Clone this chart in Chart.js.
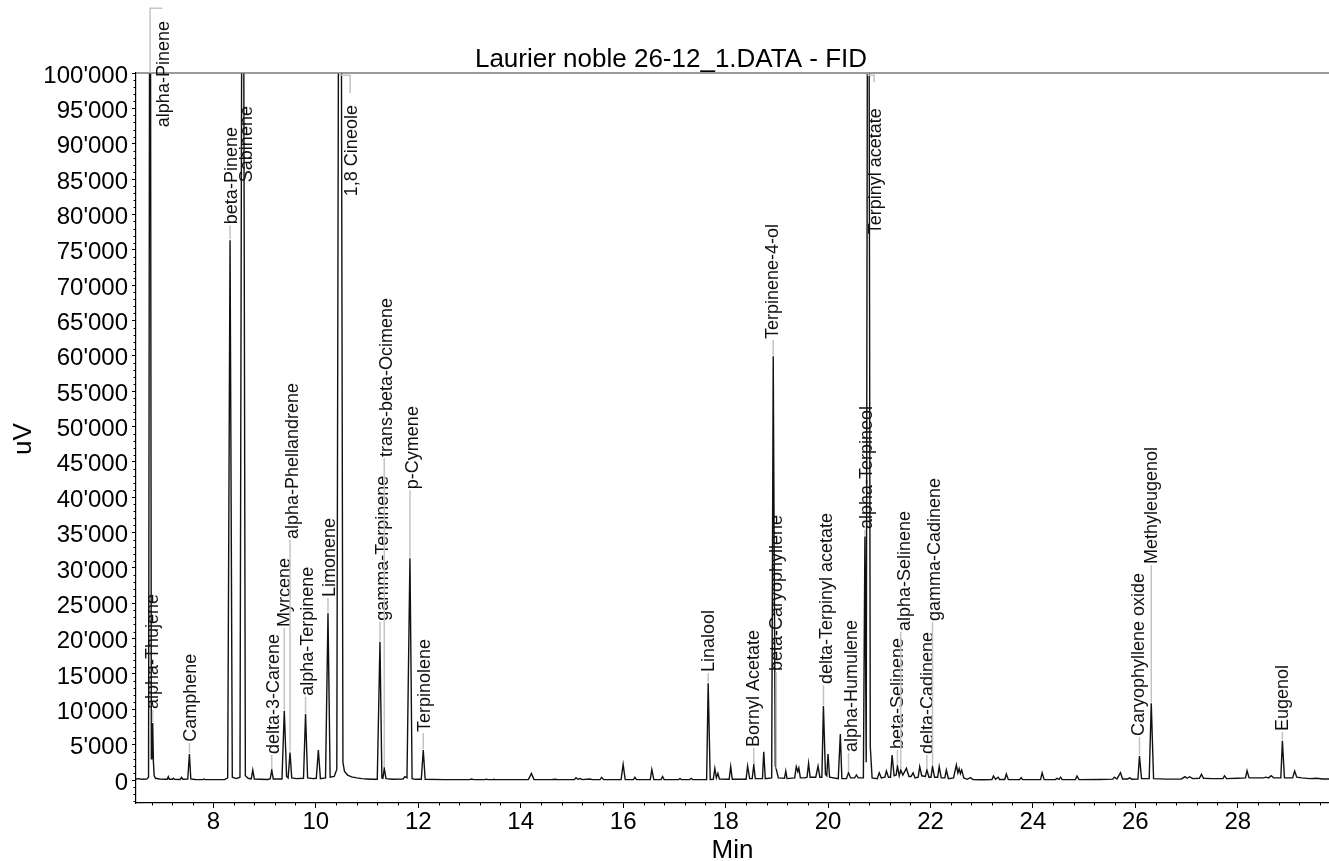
<!DOCTYPE html>
<html>
<head>
<meta charset="utf-8">
<script src="https://cdn.jsdelivr.net/npm/chart.js@4.4.1/dist/chart.umd.min.js"></script>
<style>
  html, body { margin: 0; padding: 0; background: #ffffff; }
  #wrap { width: 1329px; height: 861px; }
</style>
</head>
<body>
<div id="wrap"><canvas id="c" width="1329" height="861"></canvas></div>
<script>
// ---------- DATA ----------
const chartTitle = "Laurier noble 26-12_1.DATA - FID";
const xAxisTitle = "Min";
const yAxisTitle = "uV";

// Tick labels
const xTickValues = [8, 10, 12, 14, 16, 18, 20, 22, 24, 26, 28];
const yTickValues = [0, 5000, 10000, 15000, 20000, 25000, 30000, 35000, 40000, 45000, 50000,
  55000, 60000, 65000, 70000, 75000, 80000, 85000, 90000, 95000, 100000];

// Chromatogram trace (retention time in min, signal in uV)
const traceTime = [
  6.49, 6.55, 6.58, 6.62, 6.70, 6.735, 6.765, 6.79, 6.80, 6.815, 6.83, 6.845, 6.87, 6.95,
  7.05, 7.10, 7.12, 7.14, 7.20, 7.22, 7.24, 7.35, 7.38, 7.40, 7.50, 7.533, 7.56, 7.65, 7.80, 7.82, 7.84,
  8.00, 8.22, 8.28, 8.326, 8.37, 8.45, 8.52, 8.574, 8.625, 8.68, 8.74, 8.77, 8.80,
  9.05, 9.11, 9.14, 9.17, 9.34, 9.385, 9.43, 9.46, 9.497, 9.53, 9.62, 9.76, 9.80, 9.84, 9.95,
  10.01, 10.05, 10.09, 10.19, 10.238, 10.28, 10.36, 10.41, 10.472, 10.53, 10.56, 10.62, 10.70, 10.80, 10.90,
  11.00, 11.10, 11.20, 11.253, 11.29, 11.31, 11.337, 11.37, 11.50, 11.70, 11.74, 11.78, 11.838, 11.88, 11.95,
  12.06, 12.098, 12.135, 12.50, 13.00, 13.04, 13.08, 13.30, 13.33, 13.36, 13.46, 13.48, 13.50,
  14.15, 14.21, 14.26, 14.60, 14.67, 14.72, 15.05, 15.08, 15.12, 15.16, 15.20, 15.35, 15.40, 15.55, 15.58, 15.62,
  15.96, 16.00, 16.04, 16.20, 16.23, 16.26, 16.53, 16.56, 16.60, 16.74, 16.77, 16.80,
  17.08, 17.11, 17.14, 17.30, 17.33, 17.36, 17.63, 17.66, 17.70, 17.76, 17.79, 17.82, 17.85, 17.88,
  18.07, 18.10, 18.13, 18.40, 18.43, 18.47, 18.52, 18.55, 18.58, 18.72, 18.745, 18.775, 18.90, 18.93, 18.97, 18.99,
  19.03, 19.15, 19.175, 19.20, 19.35, 19.38, 19.41, 19.43, 19.46, 19.55, 19.59, 19.62, 19.65, 19.76, 19.805, 19.84,
  19.88, 19.91, 19.95, 19.975, 20.00, 20.03, 20.20, 20.24, 20.27, 20.36, 20.40, 20.44, 20.52, 20.555, 20.59,
  20.69, 20.72, 20.745, 20.785, 20.825, 20.86, 20.96, 21.00, 21.04, 21.11, 21.14, 21.18, 21.22, 21.25, 21.29,
  21.33, 21.355, 21.39, 21.42, 21.46, 21.53, 21.58, 21.62, 21.66, 21.70, 21.76, 21.79, 21.83, 21.90, 21.93, 21.97,
  22.01, 22.04, 22.08, 22.14, 22.17, 22.21, 22.28, 22.31, 22.35, 22.45, 22.505, 22.535, 22.56, 22.585, 22.61, 22.65,
  22.72, 22.78, 22.83, 23.00, 23.20, 23.23, 23.27, 23.32, 23.35, 23.45, 23.48, 23.52, 23.74, 23.77, 23.80,
  24.15, 24.18, 24.22, 24.44, 24.47, 24.51, 24.54, 24.57, 24.83, 24.86, 24.90, 25.30, 25.56, 25.59, 25.64,
  25.71, 25.75, 25.85, 25.89, 25.93, 26.05, 26.08, 26.12, 26.27, 26.31, 26.355, 26.60, 26.90, 26.97, 27.01,
  27.06, 27.12, 27.25, 27.29, 27.33, 27.50, 27.71, 27.74, 27.78, 28.00, 28.15, 28.18, 28.22, 28.50, 28.55,
  28.60, 28.65, 28.70, 28.84, 28.87, 28.91, 29.07, 29.11, 29.15, 29.25, 29.40, 29.54, 29.65, 29.80
];
const traceSignal = [
  150, 200, 120, 100, 120, 400, 160000, 3000, 3200, 8070, 2500, 600, 250, 150,
  100, 100, 470, 100, 100, 240, 100, 80, 380, 100, 120, 3680, 150, 80, 60, 150, 60,
  50, 50, 300, 76360, 400, 200, 400, 170000, 600, 250, 150, 1410, 150,
  80, 150, 1410, 150, 150, 9800, 500, 300, 3900, 300, 200, 250, 9330, 300, 200,
  250, 4240, 200, 300, 23570, 400, 500, 1500, 200000, 2500, 1200, 700, 450, 300, 200,
  150, 100, 100, 19560, 300, 250, 1650, 200, 100, 150, 470, 300, 31350, 200, 100,
  100, 4240, 100, 60, 50, 140, 50, 50, 120, 50, 50, 100, 50,
  60, 940, 60, 50, 100, 50, 50, 330, 100, 200, 60, 150, 60, 60, 380, 60,
  60, 2210, 60, 60, 380, 60, 60, 1480, 60, 60, 500, 60,
  60, 190, 60, 60, 240, 60, 60, 13670, 80, 100, 1650, 300, 940, 150,
  100, 1890, 100, 100, 1980, 200, 200, 2120, 200, 200, 4000, 200, 300, 59950, 2000, 1500,
  300, 250, 1270, 200, 300, 1890, 1200, 1700, 300, 300, 400, 2360, 400, 400, 1980, 400,
  400, 10460, 800, 600, 3680, 400, 200, 6500, 200, 200, 1030, 300, 300, 710, 300,
  300, 34450, 2500, 180000, 4700, 300, 200, 1030, 300, 400, 1270, 400, 400, 3540, 600,
  700, 1980, 600, 1410, 700, 1650, 500, 500, 1000, 300, 400, 1890, 600, 500, 1410, 400,
  400, 1890, 400, 400, 1890, 300, 300, 1410, 200, 300, 2120, 1000, 1600, 900, 1400, 300,
  100, 330, 50, 40, 60, 570, 100, 400, 80, 80, 850, 80, 60, 330, 60,
  60, 1030, 60, 60, 250, 100, 400, 60, 60, 570, 60, 80, 120, 400, 150,
  1030, 150, 150, 300, 120, 150, 3390, 200, 200, 10840, 200, 120, 150, 470, 250,
  470, 200, 250, 800, 250, 200, 200, 610, 200, 250, 300, 1320, 300, 300, 400,
  300, 600, 300, 300, 5560, 300, 300, 1270, 400, 300, 200, 250, 150, 150
];

// Peak annotations
const labelNames = [
  "alpha-Pinene", "alpha-Thujene", "Camphene", "beta-Pinene", "Sabinene", "delta-3-Carene",
  "Myrcene", "alpha-Phellandrene", "alpha-Terpinene", "Limonene", "1,8 Cineole",
  "gamma-Terpinene", "trans-beta-Ocimene", "p-Cymene", "Terpinolene", "Linalool",
  "Bornyl Acetate", "beta-Caryophyllene", "Terpinene-4-ol", "delta-Terpinyl acetate",
  "alpha-Humulene", "alpha-Terpineol", "Terpinyl acetate", "beta-Selinene", "alpha-Selinene",
  "delta-Cadinene", "gamma-Cadinene", "Caryophyllene oxide", "Methyleugenol", "Eugenol"
];
const labelPeakTime = [
  6.765, 6.815, 7.533, 8.326, 8.574, 9.14, 9.385, 9.497, 9.80, 10.238, 10.472,
  11.253, 11.337, 11.838, 12.098, 17.66, 18.55, 18.99, 18.93, 19.91,
  20.40, 20.72, 20.785, 21.355, 21.42, 21.93, 22.04, 26.08, 26.31, 28.87
];
// null = peak goes off scale
const labelPeakValue = [
  null, 8070, 3680, 76360, null, 1410, 9800, 3900, 9330, 23570, null,
  19560, 1650, 31350, 4240, 13670, 2120, 1500, 59950, 10460,
  1030, 34450, null, 1980, 1410, 1410, 1890, 3390, 10840, 5560
];
const labelTextTime = [
  7.03, 6.83, 7.56, 8.36, 8.65, 9.18, 9.40, 9.56, 9.85, 10.28, 10.70,
  11.31, 11.39, 11.90, 12.13, 17.67, 18.55, 19.00, 18.93, 19.98,
  20.46, 20.76, 20.93, 21.36, 21.50, 21.945, 22.08, 26.08, 26.33, 28.89
];
const labelTextValue = [
  92200, 9900, 5270, 78480, 84420, 3540, 21490, 33940, 11780, 25730, 82440,
  22380, 45530, 41000, 6650, 15130, 4525, 15270, 62220, 13430,
  3820, 35350, 77060, 4240, 20930, 3540, 22340, 6080, 30400, 6790
];
// Bracket leaders for off-scale peaks (null = plain vertical leader)
const labelJogValue = [
  109160, null, null, null, null, null, null, null, null, null, 99690,
  null, null, null, null, null, null, null, null, null,
  null, null, 99690, null, null, null, null, null, null, null
];
const labelJogEndValue = [
  109160, null, null, null, null, null, null, null, null, null, 97140,
  null, null, null, null, null, null, null, null, null,
  null, null, 98700, null, null, null, null, null, null, null
];

const xMin = 6.49, xMax = 29.78, xMinorStep = 0.4;
const yMin = -3250, yMax = 100000, yMinorStep = 1000;

// ---------- CHART ----------
const FONT = "'Liberation Sans', Arial, sans-serif";
const points = traceTime.map((t, i) => ({ x: t, y: traceSignal[i] }));

function fmtThousands(v) {
  return String(Math.round(v)).replace(/\B(?=(\d{3})+(?!\d))/g, "'");
}

const decorPlugin = {
  id: 'decor',
  afterDraw(chart) {
    const ctx = chart.ctx;
    const xs = chart.scales.x, ys = chart.scales.y;
    const area = chart.chartArea;
    ctx.save();
    // top frame line
    ctx.strokeStyle = '#7a7a7a';
    ctx.lineWidth = 1.5;
    ctx.beginPath();
    ctx.moveTo(area.left, area.top);
    ctx.lineTo(chart.width, area.top);
    ctx.stroke();

    // minor ticks
    ctx.strokeStyle = '#000';
    ctx.lineWidth = 1;
    ctx.beginPath();
    for (let v = Math.ceil(yMin / yMinorStep) * yMinorStep; v <= yMax; v += yMinorStep) {
      if (yTickValues.indexOf(v) >= 0) continue;
      const py = Math.round(ys.getPixelForValue(v)) + 0.5;
      ctx.moveTo(area.left - 2.5, py);
      ctx.lineTo(area.left, py);
    }
    const x0 = Math.ceil(xMin / xMinorStep) * xMinorStep;
    for (let k = 0; k < 200; k++) {
      const v = +(x0 + k * xMinorStep).toFixed(3);
      if (v > xMax) break;
      if (xTickValues.some(t => Math.abs(t - v) < 1e-6)) continue;
      const px = Math.round(xs.getPixelForValue(v)) + 0.5;
      ctx.moveTo(px, area.bottom);
      ctx.lineTo(px, area.bottom + 2.5);
    }
    ctx.stroke();

    // peak labels
    ctx.font = "18px " + FONT;
    for (let i = 0; i < labelNames.length; i++) {
      const px = xs.getPixelForValue(labelPeakTime[i]);
      const tx = xs.getPixelForValue(labelTextTime[i]);
      const ty = ys.getPixelForValue(labelTextValue[i]);
      ctx.strokeStyle = '#c4c4c4';
      ctx.lineWidth = 1.5;
      if (labelJogValue[i] !== null) {
        const jy = ys.getPixelForValue(labelJogValue[i]);
        const ey = ys.getPixelForValue(labelJogEndValue[i]);
        ctx.beginPath();
        ctx.moveTo(px, area.top);
        ctx.lineTo(px, jy);
        ctx.lineTo(tx - 1.5, jy);
        ctx.lineTo(tx - 1.5, ey);
        ctx.stroke();
      } else if (labelPeakValue[i] !== null) {
        const py = ys.getPixelForValue(labelPeakValue[i]);
        ctx.beginPath();
        ctx.moveTo(px, py - 1);
        ctx.lineTo(px, ty);
        ctx.stroke();
      }
      ctx.save();
      ctx.translate(tx, ty);
      ctx.rotate(-Math.PI / 2);
      ctx.fillStyle = '#111';
      ctx.textAlign = 'left';
      ctx.textBaseline = 'middle';
      ctx.fillText(labelNames[i], 1, 0);
      ctx.restore();
    }

    // title and axis titles
    ctx.fillStyle = '#000';
    ctx.font = "26px " + FONT;
    ctx.textAlign = 'center';
    ctx.textBaseline = 'alphabetic';
    ctx.fillText(chartTitle, 671, 67);
    ctx.fillText(xAxisTitle, (area.left + area.right) / 2, 858);
    ctx.save();
    ctx.translate(31, 439);
    ctx.rotate(-Math.PI / 2);
    ctx.textAlign = 'center';
    ctx.textBaseline = 'alphabetic';
    ctx.fillText(yAxisTitle, 0, 0);
    ctx.restore();
    ctx.restore();
  }
};

new Chart(document.getElementById('c'), {
  type: 'line',
  data: {
    datasets: [{
      data: points,
      borderColor: '#111',
      borderWidth: 1.4,
      pointRadius: 0,
      tension: 0,
      fill: false
    }]
  },
  options: {
    responsive: false,
    animation: false,
    devicePixelRatio: 1,
    layout: { padding: { top: 73, left: 0, right: 0, bottom: 0 } },
    plugins: { legend: { display: false }, title: { display: false }, tooltip: { enabled: false } },
    scales: {
      x: {
        type: 'linear',
        min: xMin, max: xMax,
        afterFit(scale) { scale.height = 58; },
        afterBuildTicks(scale) { scale.ticks = xTickValues.map(v => ({ value: v })); },
        grid: { drawOnChartArea: false, drawTicks: true, tickLength: 5, tickColor: '#000' },
        border: { display: true, color: '#000', width: 1.2 },
        ticks: {
          maxRotation: 0, autoSkip: false,
          color: '#000', padding: 0,
          font: { family: FONT, size: 24 },
          callback: (v) => String(v)
        }
      },
      y: {
        type: 'linear',
        min: yMin, max: yMax,
        afterFit(scale) { scale.width = 136; },
        afterBuildTicks(scale) { scale.ticks = yTickValues.map(v => ({ value: v })); },
        grid: { drawOnChartArea: false, drawTicks: true, tickLength: 4, tickColor: '#000' },
        border: { display: true, color: '#000', width: 1.2 },
        ticks: {
          autoSkip: false,
          color: '#000', padding: 4, labelOffset: 3,
          font: { family: FONT, size: 24 },
          callback: (v) => fmtThousands(v)
        }
      }
    }
  },
  plugins: [decorPlugin]
});
</script>
</body>
</html>
